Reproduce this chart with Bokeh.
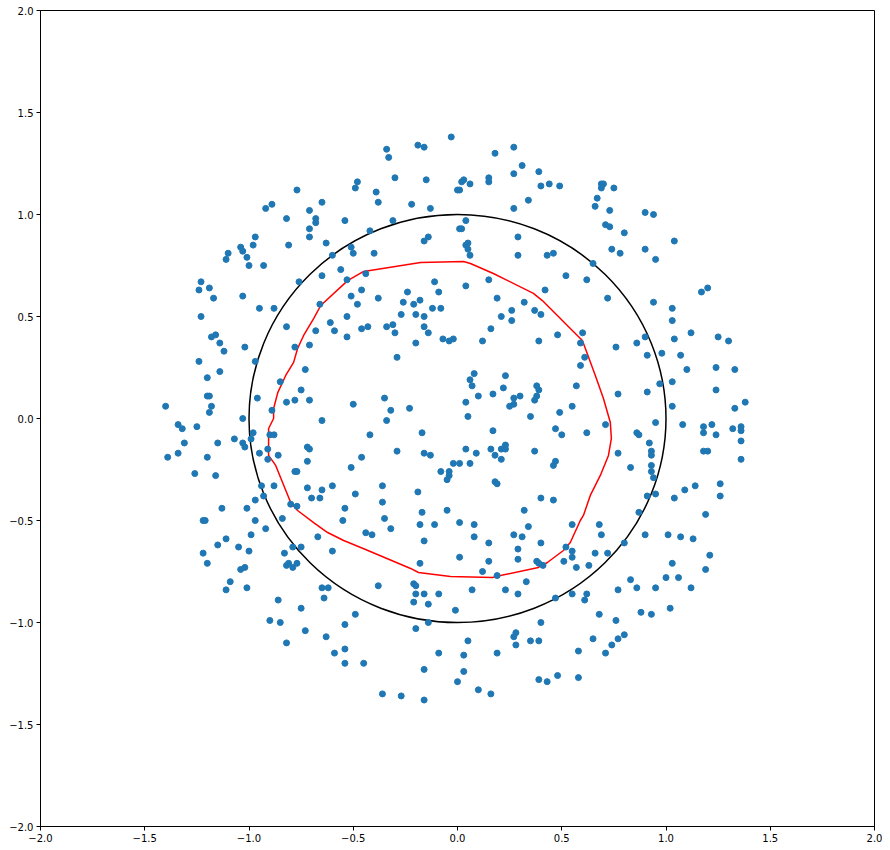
from bokeh.plotting import figure
from bokeh.models import Range1d, FixedTicker, CustomJSTickFormatter
from bokeh.embed import file_html
from bokeh.resources import INLINE

# ---- data ----
tick_values = [-2.0, -1.5, -1.0, -0.5, 0.0, 0.5, 1.0, 1.5, 2.0]

circle_center = (0.0, 0.0)
circle_radius = 1.0

pts_upper_left = [
    (-0.48, 1.16), (-0.49, 1.13), (-0.77, 1.12), (-0.92, 1.03), (-0.89, 1.05), (-0.71, 1.02),
    (-0.65, 1.06), (-0.82, 0.98), (-0.68, 0.98), (-0.68, 0.96), (-0.54, 0.97), (-0.71, 0.93),
    (-0.71, 0.89), (-0.97, 0.89), (-0.98, 0.85), (-1.04, 0.84), (-1.03, 0.82), (-1.10, 0.81),
    (-1.11, 0.78), (-1.01, 0.79), (-0.81, 0.85), (-0.63, 0.86), (-0.51, 0.84), (-0.50, 0.81),
    (-1.00, 0.75), (-0.93, 0.75), (-0.60, 0.80), (-0.56, 0.73), (-0.65, 0.70), (-0.76, 0.67),
    (-1.23, 0.67), (-1.24, 0.63), (-1.19, 0.64), (-1.17, 0.59), (-0.53, 0.68), (-0.51, 0.60),
    (-0.48, 0.56), (-1.03, 0.60), (-0.95, 0.54), (-0.88, 0.54), (-0.66, 0.56),
]
pts_upper_mid = [
    (-0.03, 1.38), (-0.34, 1.32), (-0.33, 1.28), (-0.19, 1.34), (-0.16, 1.33), (0.18, 1.30),
    (0.27, 1.33), (0.31, 1.24), (0.39, 1.21), (0.27, 1.20), (0.44, 1.15), (0.40, 1.14),
    (0.49, 1.14), (-0.30, 1.18), (-0.15, 1.17), (0.03, 1.17), (0.02, 1.16), (0.06, 1.15),
    (0.15, 1.18), (0.15, 1.16), (0.01, 1.12), (0.00, 1.12), (-0.39, 1.11), (-0.38, 1.06),
    (-0.22, 1.05), (-0.13, 1.03), (0.27, 1.03), (0.34, 1.07), (-0.31, 0.97), (0.04, 0.97),
    (-0.42, 0.92), (0.01, 0.93), (0.02, 0.93), (-0.16, 0.87), (-0.14, 0.89), (0.29, 0.89),
    (0.04, 0.85), (0.05, 0.86), (0.05, 0.83), (0.06, 0.80), (-0.40, 0.81), (0.29, 0.80),
    (0.43, 0.80), (0.46, 0.81), (-0.44, 0.71), (0.52, 0.70), (-0.11, 0.67), (0.15, 0.68),
    (0.04, 0.65), (-0.46, 0.63), (-0.24, 0.62), (-0.09, 0.62), (0.42, 0.63), (-0.38, 0.59),
    (-0.26, 0.57), (-0.21, 0.56), (-0.18, 0.58), (0.19, 0.59), (0.32, 0.57), (-0.12, 0.54),
    (-0.08, 0.54), (0.26, 0.53), (0.37, 0.53), (0.40, 0.51), (-0.27, 0.51), (-0.20, 0.51),
    (-0.16, 0.50), (0.21, 0.50),
]
pts_upper_right = [
    (0.69, 1.15), (0.70, 1.15), (0.69, 1.13), (0.75, 1.13), (0.67, 1.08), (0.66, 1.04),
    (0.73, 1.02), (0.90, 1.01), (0.94, 1.00), (0.71, 0.95), (0.73, 0.94), (0.80, 0.91),
    (1.04, 0.87), (0.74, 0.83), (0.78, 0.81), (0.90, 0.83), (0.95, 0.78), (0.65, 0.76),
    (0.62, 0.68), (1.17, 0.62), (1.20, 0.64), (0.72, 0.59), (0.94, 0.57), (1.03, 0.54),
]
pts_mid_left = [
    (-1.23, 0.50), (-0.82, 0.45), (-0.61, 0.47), (-0.53, 0.50), (-0.59, 0.43), (-0.68, 0.43),
    (-0.53, 0.40), (-1.18, 0.40), (-1.16, 0.41), (-1.14, 0.37), (-1.12, 0.33), (-1.02, 0.35),
    (-0.78, 0.35), (-0.71, 0.36), (-1.24, 0.28), (-0.97, 0.28), (-1.14, 0.23), (-1.20, 0.20),
    (-0.73, 0.24), (-0.85, 0.18), (-0.75, 0.14), (-1.20, 0.11), (-1.19, 0.11), (-0.96, 0.10),
    (-0.82, 0.08), (-0.78, 0.09), (-0.71, 0.09), (-1.40, 0.06), (-1.18, 0.06), (-1.19, 0.03),
    (-0.89, 0.04), (-0.50, 0.07), (-1.03, 0.00), (-0.65, -0.01), (-1.34, -0.03), (-1.32, -0.05),
    (-1.25, -0.04), (-0.98, -0.07), (-0.90, -0.08), (-0.88, -0.08), (-1.07, -0.10), (-1.03, -0.12),
    (-1.02, -0.14), (-0.99, -0.10), (-1.31, -0.12), (-1.15, -0.12), (-0.91, -0.15), (-0.72, -0.14),
    (-0.71, -0.15), (-1.34, -0.17), (-1.39, -0.19), (-1.20, -0.19), (-0.95, -0.17), (-0.86, -0.18),
    (-0.91, -0.20), (-0.72, -0.21), (-1.26, -0.27), (-1.16, -0.28), (-0.78, -0.26), (-0.77, -0.26),
    (-0.51, -0.24), (-0.94, -0.33), (-0.88, -0.33), (-0.72, -0.34), (-0.65, -0.35), (-0.60, -0.33),
    (-0.97, -0.40), (-0.93, -0.38), (-0.70, -0.39), (-0.66, -0.39), (-0.49, -0.37), (-0.80, -0.42),
    (-0.77, -0.43), (-1.13, -0.44), (-1.01, -0.44), (-0.54, -0.44),
]
pts_center = [
    (-0.46, 0.44), (-0.43, 0.45), (-0.34, 0.45), (-0.31, 0.46), (-0.30, 0.42), (-0.16, 0.45),
    (-0.14, 0.42), (-0.20, 0.37), (-0.07, 0.39), (-0.04, 0.38), (-0.02, 0.39), (0.12, 0.38),
    (0.16, 0.44), (0.26, 0.48), (0.39, 0.38), (0.48, 0.41), (-0.29, 0.30), (0.08, 0.22),
    (0.06, 0.19), (0.07, 0.16), (0.23, 0.21), (0.22, 0.15), (0.17, 0.12), (0.10, 0.11),
    (0.27, 0.10), (0.30, 0.11), (0.38, 0.16), (0.39, 0.14), (0.38, 0.11), (0.37, 0.09),
    (0.25, 0.06), (0.27, 0.07), (0.04, 0.08), (-0.35, 0.10), (-0.32, 0.04), (-0.23, 0.05),
    (-0.34, -0.01), (0.05, 0.01), (0.35, 0.01), (0.49, 0.03), (-0.42, -0.08), (-0.17, -0.07),
    (0.17, -0.06), (0.47, -0.05), (0.50, -0.08), (-0.29, -0.16), (-0.16, -0.17), (-0.13, -0.18),
    (-0.46, -0.19), (0.04, -0.15), (0.09, -0.17), (0.06, -0.22), (0.16, -0.15), (0.18, -0.18),
    (0.21, -0.15), (0.23, -0.13), (0.23, -0.15), (0.21, -0.20), (0.37, -0.16), (0.47, -0.21),
    (0.46, -0.23), (-0.08, -0.26), (-0.02, -0.22), (0.01, -0.22), (-0.04, -0.26), (-0.04, -0.28),
    (-0.05, -0.30), (0.18, -0.31), (0.19, -0.32), (-0.36, -0.33), (-0.19, -0.36), (-0.36, -0.41),
    (-0.05, -0.45), (0.32, -0.45), (0.40, -0.39), (0.46, -0.40),
]
pts_mid_right = [
    (1.03, 0.48), (1.12, 0.42), (0.60, 0.42), (0.59, 0.37), (0.90, 0.40), (0.86, 0.37),
    (1.04, 0.39), (1.25, 0.40), (1.30, 0.38), (0.76, 0.35), (0.61, 0.30), (0.91, 0.31),
    (0.98, 0.32), (1.07, 0.31), (0.59, 0.26), (1.10, 0.24), (1.24, 0.25), (1.33, 0.24),
    (0.57, 0.16), (0.97, 0.17), (1.03, 0.18), (0.77, 0.12), (0.91, 0.13), (1.24, 0.14),
    (0.55, 0.06), (1.03, 0.06), (1.38, 0.08), (1.33, 0.05), (0.71, -0.03), (0.95, -0.02),
    (1.08, -0.03), (1.18, -0.04), (1.18, -0.07), (1.22, -0.03), (1.32, -0.05), (1.36, -0.04),
    (1.36, -0.06), (1.24, -0.08), (0.62, -0.07), (0.86, -0.07), (0.87, -0.08), (1.36, -0.11),
    (0.92, -0.12), (0.77, -0.17), (0.93, -0.16), (0.93, -0.18), (1.18, -0.16), (1.20, -0.16),
    (1.36, -0.20), (0.83, -0.24), (0.93, -0.23), (0.93, -0.26), (0.94, -0.29), (1.26, -0.32),
    (1.14, -0.33), (1.09, -0.35), (0.95, -0.37), (0.91, -0.38), (1.04, -0.39), (1.26, -0.38),
]
pts_lower_left = [
    (-1.22, -0.50), (-1.21, -0.50), (-0.97, -0.50), (-0.92, -0.54), (-0.84, -0.49), (-0.55, -0.50),
    (-0.99, -0.57), (-1.15, -0.62), (-1.11, -0.59), (-1.05, -0.63), (-1.00, -0.65), (-1.22, -0.66),
    (-1.20, -0.71), (-0.79, -0.63), (-0.75, -0.63), (-0.83, -0.66), (-0.67, -0.58), (-0.60, -0.65),
    (-0.82, -0.72), (-0.81, -0.71), (-0.79, -0.73), (-0.77, -0.71), (-1.04, -0.74), (-1.02, -0.73),
    (-1.09, -0.80), (-1.11, -0.84), (-1.01, -0.83), (-0.65, -0.83), (-0.62, -0.83), (-0.64, -0.88),
    (-0.86, -0.89), (-0.75, -0.93), (-0.49, -0.96), (-0.90, -0.99), (-0.85, -1.00), (-0.54, -1.01),
    (-0.73, -1.04), (-0.63, -1.07), (-0.82, -1.10), (-0.54, -1.13), (-0.59, -1.15), (-0.54, -1.20),
]
pts_lower_mid = [
    (-0.17, -0.46), (-0.35, -0.49), (-0.44, -0.56), (-0.41, -0.57), (-0.32, -0.54), (-0.18, -0.52),
    (-0.11, -0.52), (0.01, -0.51), (0.08, -0.52), (0.08, -0.58), (-0.16, -0.60), (0.15, -0.61),
    (0.27, -0.57), (0.31, -0.58), (0.34, -0.53), (0.40, -0.61), (0.29, -0.64), (0.29, -0.69),
    (0.15, -0.70), (0.01, -0.68), (-0.18, -0.71), (0.12, -0.75), (0.19, -0.77), (0.38, -0.70),
    (0.39, -0.71), (0.41, -0.72), (0.52, -0.63), (0.51, -0.70), (-0.21, -0.81), (-0.20, -0.82),
    (-0.38, -0.82), (-0.20, -0.86), (-0.16, -0.86), (-0.09, -0.86), (-0.21, -0.90), (-0.14, -0.91),
    (0.07, -0.84), (0.23, -0.84), (0.33, -0.80), (0.29, -0.86), (0.47, -0.88), (-0.01, -0.94),
    (-0.20, -1.03), (-0.14, -1.00), (0.40, -1.00), (0.28, -1.05), (0.27, -1.07), (0.05, -1.09),
    (0.28, -1.11), (0.35, -1.09), (0.39, -1.09), (-0.09, -1.15), (0.03, -1.16), (0.19, -1.15),
    (-0.45, -1.20), (-0.16, -1.23), (0.03, -1.24), (0.00, -1.29), (0.39, -1.28), (0.43, -1.29),
    (0.48, -1.26), (0.10, -1.33), (-0.36, -1.35), (-0.27, -1.36), (-0.16, -1.38), (0.16, -1.35),
]
pts_lower_right = [
    (0.87, -0.46), (1.19, -0.47), (0.55, -0.52), (0.68, -0.52), (0.69, -0.57), (0.90, -0.57),
    (1.01, -0.57), (1.07, -0.58), (1.13, -0.59), (0.80, -0.61), (0.55, -0.65), (0.55, -0.68),
    (0.66, -0.66), (0.72, -0.66), (1.21, -0.67), (0.57, -0.73), (0.63, -0.72), (1.03, -0.71),
    (1.19, -0.74), (0.83, -0.79), (0.86, -0.83), (0.95, -0.83), (1.00, -0.78), (1.06, -0.78),
    (1.12, -0.83), (0.77, -0.84), (0.55, -0.86), (0.62, -0.86), (0.61, -0.89), (0.88, -0.95),
    (0.93, -0.96), (1.02, -0.93), (0.68, -0.96), (0.76, -0.99), (0.80, -1.06), (0.77, -1.08),
    (0.65, -1.08), (0.74, -1.11), (0.71, -1.15), (0.58, -1.14), (0.58, -1.27),
]

boundary_x = [-0.690, -0.656, -0.527, -0.450, -0.177, 0.029, 0.062, 0.172, 0.364, 0.407,
              0.479, 0.541, 0.599, 0.661, 0.700, 0.733, 0.738, 0.724, 0.685, 0.637,
              0.604, 0.589, 0.541, 0.508, 0.431, 0.388, 0.206, 0.168, -0.034, -0.187,
              -0.225, -0.441, -0.546, -0.623, -0.690, -0.767, -0.800, -0.839, -0.872, -0.906,
              -0.906, -0.906, -0.882, -0.882, -0.862, -0.824, -0.786, -0.767, -0.738]
boundary_y = [0.490, 0.554, 0.676, 0.721, 0.765, 0.770, 0.760, 0.711, 0.613, 0.578,
              0.505, 0.441, 0.382, 0.211, 0.098, -0.020, -0.098, -0.181, -0.279, -0.377,
              -0.475, -0.500, -0.608, -0.647, -0.706, -0.730, -0.770, -0.779, -0.775, -0.755,
              -0.735, -0.642, -0.598, -0.559, -0.510, -0.451, -0.412, -0.314, -0.230, -0.181,
              -0.083, -0.049, 0.000, 0.049, 0.127, 0.211, 0.275, 0.343, 0.407]

# ---- build ----
all_pts = (pts_upper_left + pts_upper_mid + pts_upper_right + pts_mid_left + pts_center
           + pts_mid_right + pts_lower_left + pts_lower_mid + pts_lower_right)
px = [p_[0] for p_ in all_pts]
py = [p_[1] for p_ in all_pts]

bx = boundary_x + boundary_x[:1]
by = boundary_y + boundary_y[:1]

p = figure(width=890, height=850,
           x_range=Range1d(-2, 2), y_range=Range1d(-2, 2),
           output_backend="svg", toolbar_location=None,
           min_border_left=40, min_border_right=16,
           min_border_top=10, min_border_bottom=24)
p.background_fill_color = "white"
p.border_fill_color = "white"
p.grid.visible = False
p.outline_line_color = "black"
p.outline_line_width = 1
p.outline_line_alpha = 1.0

fmt_code = "return tick.toFixed(1).replace('-', '\u2212');"
for ax in (p.xaxis[0], p.yaxis[0]):
    ax.ticker = FixedTicker(ticks=tick_values)
    ax.formatter = CustomJSTickFormatter(code=fmt_code)
    ax.major_tick_out = 4
    ax.major_tick_in = 0
    ax.minor_tick_out = 0
    ax.minor_tick_in = 0
    ax.axis_line_color = "black"
    ax.major_tick_line_color = "black"
    ax.major_label_text_font = "DejaVu Sans"
    ax.major_label_text_font_size = "10px"
    ax.major_label_text_color = "black"
    ax.major_label_standoff = 3

p.ellipse(x=[circle_center[0]], y=[circle_center[1]],
          width=[2 * circle_radius], height=[2 * circle_radius],
          fill_alpha=0, line_color="black", line_width=1.5)
p.line(bx, by, line_color="red", line_width=1.5)
p.scatter(px, py, size=6, fill_color="#1f77b4", line_color="#1f77b4", line_width=1)

open("out.html", "w").write(file_html(p, INLINE))
